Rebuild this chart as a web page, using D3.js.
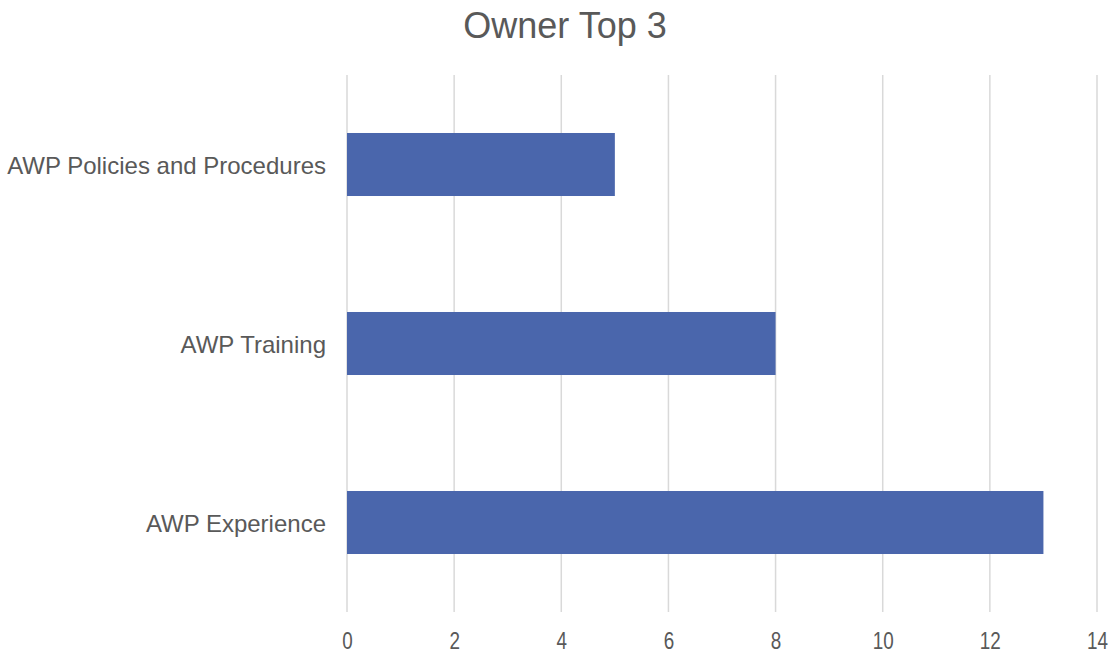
<!DOCTYPE html>
<html>
<head>
<meta charset="utf-8">
<script src="https://cdn.jsdelivr.net/npm/d3@7"></script>
<style>
  body { margin: 0; background: #fff; }
  text { font-family: "Liberation Sans", Arial, sans-serif; fill: #595959; }
</style>
</head>
<body>
<div id="chart"></div>
<script>
// Chart data
const categories = ["AWP Policies and Procedures", "AWP Training", "AWP Experience"];
const values = [5, 8, 13];
const xTicks = [0, 2, 4, 6, 8, 10, 12, 14];
const title = "Owner Top 3";

var width = 1115,
  height = 655;
var margin = { top: 75, right: 18, bottom: 43, left: 347 };

const svg = d3
  .select("#chart")
  .append("svg")
  .attr("width", width)
  .attr("height", height);

// Scales
const x = d3
  .scaleLinear()
  .domain([0, 14])
  .range([margin.left, width - margin.right]);

const y = d3
  .scaleBand()
  .domain(categories)
  .range([margin.top, height - margin.bottom])
  .paddingInner(0.648)
  .paddingOuter(0.324);

// Vertical gridlines
svg
  .selectAll(".grid")
  .data(xTicks)
  .enter()
  .append("line")
  .attr("class", "grid")
  .attr("x1", (d) => x(d))
  .attr("x2", (d) => x(d))
  .attr("y1", margin.top)
  .attr("y2", height - margin.bottom)
  .attr("stroke", "#d9d9d9")
  .attr("stroke-width", 1.5);

// Bars
svg
  .selectAll(".bar")
  .data(categories)
  .enter()
  .append("rect")
  .attr("class", "bar")
  .attr("x", x(0))
  .attr("y", (d) => y(d))
  .attr("width", (d, i) => x(values[i]) - x(0))
  .attr("height", y.bandwidth())
  .attr("fill", "#4a66ac");

// X axis tick labels (narrow digits like the original)
const xAxis = svg
  .append("g")
  .attr("transform", "translate(0," + (height - margin.bottom) + ")")
  .call(d3.axisBottom(x).tickValues(xTicks).tickSize(0).tickPadding(37));
xAxis.select(".domain").remove();
xAxis
  .selectAll("text")
  .attr("font-family", '"Liberation Sans Narrow", "Liberation Sans", Arial, sans-serif')
  .style("font-size", "24px")
  .attr("fill", "#595959")
  .attr("dy", "0")
  .attr("textLength", (d) => String(d).length * 10.5)
  .attr("lengthAdjust", "spacingAndGlyphs");

// Y axis category labels
const yAxis = svg
  .append("g")
  .attr("transform", "translate(" + margin.left + ",0)")
  .call(d3.axisLeft(y).tickSize(0).tickPadding(21));
yAxis.select(".domain").remove();
yAxis
  .selectAll("text")
  .attr("font-family", '"Liberation Sans", Arial, sans-serif')
  .style("font-size", "24px")
  .attr("fill", "#595959")
  .attr("dy", "0.38em");

// Title
svg
  .append("text")
  .attr("x", 565)
  .attr("y", 38)
  .attr("text-anchor", "middle")
  .style("font-size", "36px")
  .text(title);
</script>
</body>
</html>
